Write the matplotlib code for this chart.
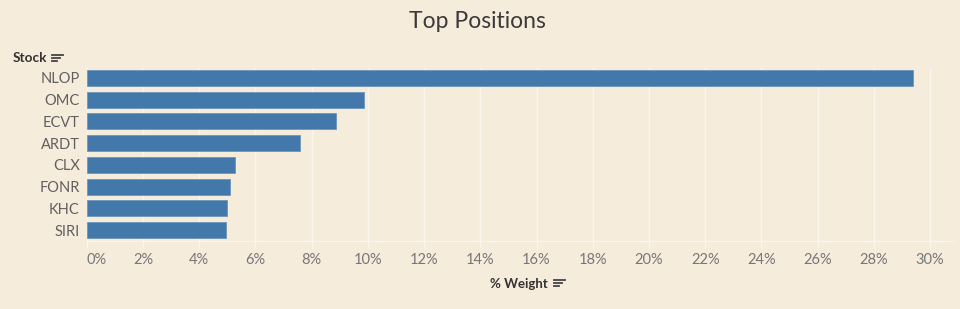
import matplotlib.pyplot as plt
from matplotlib.lines import Line2D

# data
stocks = ['NLOP', 'OMC', 'ECVT', 'ARDT', 'CLX', 'FONR', 'KHC', 'SIRI']
weights = [29.4, 9.87, 8.87, 7.59, 5.27, 5.08, 5.0, 4.96]
ticks = list(range(0, 31, 2))
tick_labels = [f'{t}%' for t in ticks]

W, H = 960, 309
bg = '#F6ECDB'
bar_color = '#4378AA'

plt.rcParams['font.family'] = ['Lato', 'DejaVu Sans']

fig = plt.figure(figsize=(W / 100, H / 100), dpi=100, facecolor=bg)
ax = fig.add_axes([86.7 / W, 1 - 240.5 / H, (954 - 86.7) / W, (240.5 - 67.5) / H])
ax.set_facecolor(bg)

ax.barh(range(len(stocks)), weights, height=0.74, color=bar_color,
        edgecolor='#6B95BD', linewidth=0.6, zorder=3)

ax.set_ylim(len(stocks) - 0.52, -0.48)
ax.set_xlim(0, 30.85)
ax.set_yticks(range(len(stocks)))
ax.set_yticklabels(stocks, fontsize=10.5, color='#606060')
ax.set_xticks(ticks)
ax.set_xticklabels(tick_labels, fontsize=10.5, color='#777777')
ax.get_xticklabels()[0].set_horizontalalignment('left')

ax.tick_params(axis='y', length=0, pad=5)
ax.tick_params(axis='x', length=5, color='#FBF6EE', width=0.8, pad=4)

ax.grid(axis='x', color='#FFFFFF', linewidth=1, alpha=0.55, zorder=0)
for side in ['top', 'right']:
    ax.spines[side].set_visible(False)
for side in ['left', 'bottom']:
    ax.spines[side].set_color('#FBF6EE')
    ax.spines[side].set_linewidth(1)

fig.text(477 / W, 1 - 21 / H, 'Top Positions', ha='center', va='center',
         fontsize=16.5, color='#3A3A3A', fontweight='normal')
fig.text(13 / W, 1 - 58.5 / H, 'Stock', ha='left', va='center',
         fontsize=9.8, color='#333333', fontweight='bold')
fig.text(490 / W, 1 - 283.5 / H, '% Weight', ha='left', va='center',
         fontsize=9.5, color='#333333', fontweight='bold')


def sort_icon(x, y):
    # small Tableau-style sort glyph, pixel coordinates
    for i, length in enumerate([11, 8, 5]):
        yy = 1 - (y + i * 3.4) / H
        fig.add_artist(Line2D([x / W, (x + length) / W], [yy, yy],
                              color='#444444', linewidth=1.3))


sort_icon(52, 54.5)
sort_icon(554, 279.5)

fig.savefig('out.png', dpi=100, facecolor=bg)
